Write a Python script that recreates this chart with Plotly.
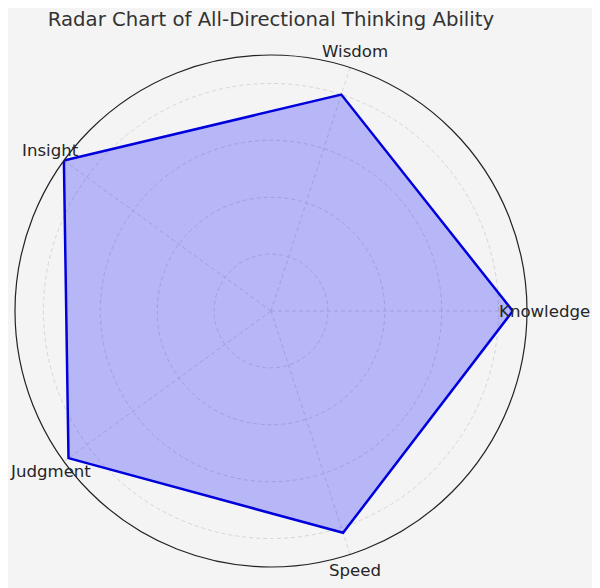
import math
import plotly.graph_objects as go

# Ability scores
categories = ["Knowledge", "Wisdom", "Insight", "Judgment", "Speed"]
scores = [8.5, 8.0, 9.0, 8.8, 8.2]
grid_ticks = [2, 4, 6, 8]
r_max = 9

W, H = 600, 588
# polar area in pixels (page adds an 8px body margin when shown)
cx, cy, rad = 263, 303, 256
label_pad = 17  # labels sit just past the rim

fig = go.Figure()

# filled polygon (closed by repeating the first point)
fig.add_trace(go.Scatterpolar(
    r=scores + scores[:1],
    theta=categories + categories[:1],
    mode="lines",
    fill="toself",
    fillcolor="rgba(0,0,255,0.25)",
    line=dict(color="#0000dd", width=2.5),
    hoverinfo="skip",
))

# category labels centred on their spoke, overlapping the rim like matplotlib
annotations = []
for i, name in enumerate(categories):
    ang = math.radians(360 / len(categories) * i)
    annotations.append(dict(
        text=name,
        x=(cx + (rad + label_pad) * math.cos(ang)) / W,
        y=(H - cy + (rad + label_pad) * math.sin(ang)) / H,
        xref="paper", yref="paper",
        xanchor="center", yanchor="middle",
        showarrow=False,
        font=dict(family="DejaVu Sans", size=16.6, color="#262626"),
    ))

fig.update_layout(
    width=W,
    height=H,
    paper_bgcolor="#f4f4f4",
    margin=dict(l=0, r=0, t=0, b=0),
    showlegend=False,
    font=dict(family="DejaVu Sans", color="#262626"),
    title=dict(
        text="Radar Chart of All-Directional Thinking Ability",
        x=cx / W, y=1 - 11 / H, xanchor="center", yanchor="middle",
        font=dict(size=19.7, color="#333333"),
    ),
    annotations=annotations,
    polar=dict(
        domain=dict(x=[(cx - rad) / W, (cx + rad) / W],
                    y=[(H - cy - rad) / H, (H - cy + rad) / H]),
        bgcolor="#f4f4f4",
        radialaxis=dict(
            range=[0, r_max],
            tickvals=grid_ticks,
            showticklabels=False,
            ticks="",
            showline=False,
            gridcolor="#d6d6d6",
            griddash="4px,3px",
            gridwidth=1,
        ),
        angularaxis=dict(
            rotation=0,
            direction="counterclockwise",
            showticklabels=False,
            ticks="",
            showline=True,
            linecolor="#222222",
            linewidth=1.2,
            gridcolor="#d6d6d6",
            griddash="4px,3px",
            gridwidth=1,
        ),
    ),
)

fig.write_html("out.html")
